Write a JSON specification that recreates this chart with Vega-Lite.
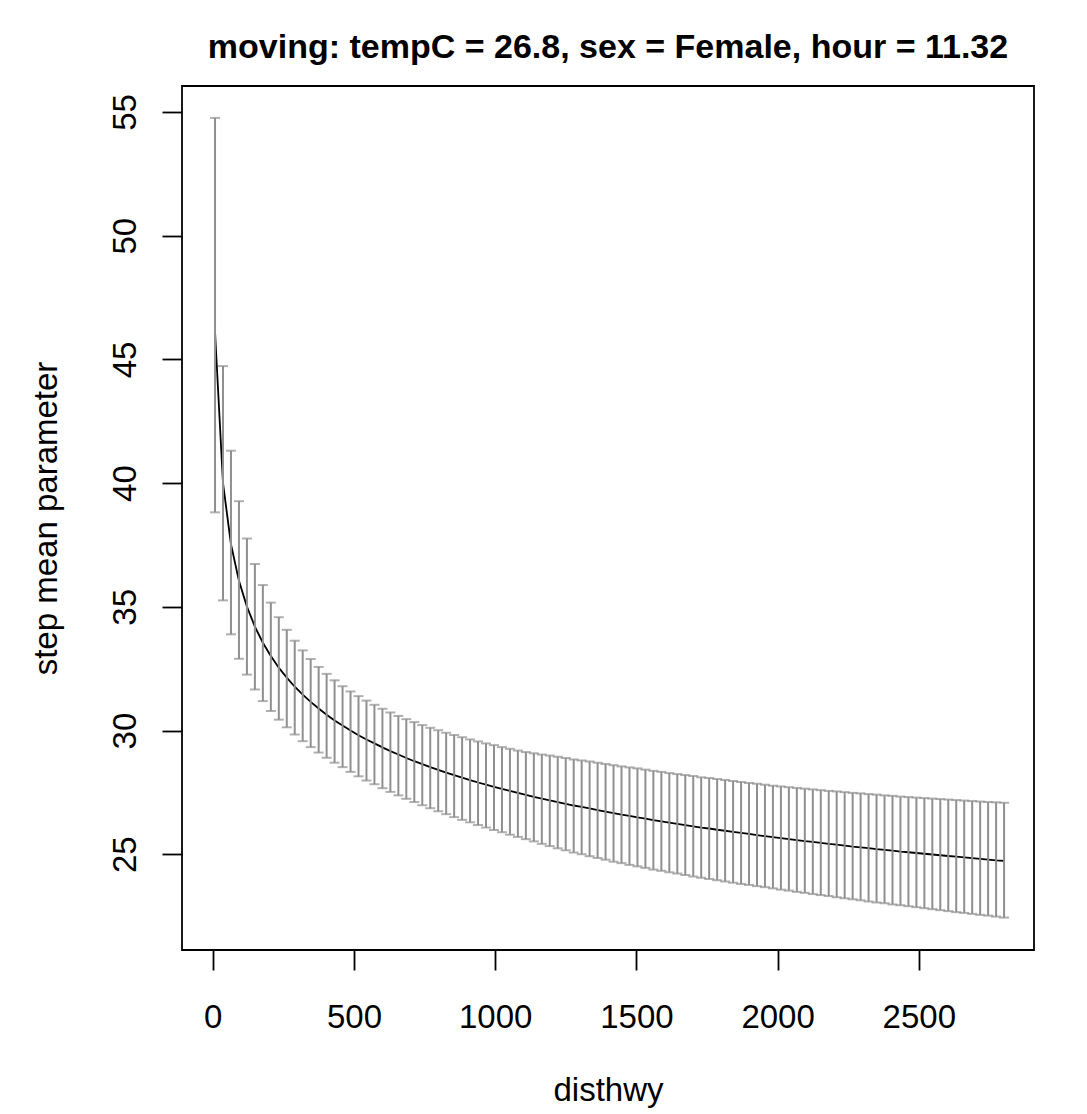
{
  "$schema": "https://vega.github.io/schema/vega-lite/v6.json",
  "width": 852,
  "height": 864,
  "autosize": {"type": "none"},
  "padding": {"left": 182, "top": 86, "right": 53, "bottom": 164},
  "background": "white",
  "title": {
    "text": "moving: tempC = 26.8, sex = Female, hour = 11.32",
    "font": "Liberation Sans",
    "fontSize": 34,
    "fontWeight": "bold",
    "color": "black",
    "anchor": "middle",
    "frame": "group",
    "baseline": "alphabetic",
    "offset": -6
  },
  "config": {
    "view": {"stroke": "black", "strokeWidth": 1.8, "fill": "white"},
    "axisX": {
      "domain": false, "grid": false,
      "tickSize": 20, "tickWidth": 1.8, "tickColor": "black",
      "labelFont": "Liberation Sans", "labelFontSize": 33, "labelColor": "black",
      "labelPadding": 57, "labelBaseline": "alphabetic", "labelFlush": false, "labelOverlap": false,
      "titleFont": "Liberation Sans", "titleFontSize": 33, "titleFontWeight": "normal", "titleColor": "black",
      "titleY": 150, "titleBaseline": "alphabetic"
    },
    "axisY": {
      "domain": false, "grid": false,
      "tickSize": 20, "tickWidth": 1.8, "tickColor": "black",
      "labelFont": "Liberation Sans", "labelFontSize": 33, "labelColor": "black",
      "labelAngle": -90, "labelAlign": "center", "labelBaseline": "alphabetic", "labelPadding": 27,
      "labelFlush": false, "labelOverlap": false,
      "titleFont": "Liberation Sans", "titleFontSize": 33, "titleFontWeight": "normal", "titleColor": "black",
      "titleX": -126, "titleBaseline": "alphabetic"
    }
  },
  "data": {"values": [
    {"d": 8, "m": 46.1, "lo": 38.82, "hi": 54.76},
    {"d": 36.2, "m": 40.0, "lo": 35.26, "hi": 44.73},
    {"d": 64.4, "m": 37.53, "lo": 33.89, "hi": 41.31},
    {"d": 92.7, "m": 36.05, "lo": 32.90, "hi": 39.27},
    {"d": 120.9, "m": 35.01, "lo": 32.26, "hi": 37.76},
    {"d": 149.1, "m": 34.20, "lo": 31.66, "hi": 36.73},
    {"d": 177.3, "m": 33.55, "lo": 31.19, "hi": 35.88},
    {"d": 205.6, "m": 33.01, "lo": 30.79, "hi": 35.17},
    {"d": 233.8, "m": 32.54, "lo": 30.44, "hi": 34.58},
    {"d": 262.0, "m": 32.14, "lo": 30.13, "hi": 34.07},
    {"d": 290.2, "m": 31.77, "lo": 29.84, "hi": 33.63},
    {"d": 318.4, "m": 31.45, "lo": 29.57, "hi": 33.24},
    {"d": 346.7, "m": 31.16, "lo": 29.33, "hi": 32.89},
    {"d": 374.9, "m": 30.89, "lo": 29.11, "hi": 32.57},
    {"d": 403.1, "m": 30.64, "lo": 28.90, "hi": 32.29},
    {"d": 431.3, "m": 30.41, "lo": 28.70, "hi": 32.03},
    {"d": 459.6, "m": 30.20, "lo": 28.52, "hi": 31.79},
    {"d": 487.8, "m": 30.00, "lo": 28.33, "hi": 31.58},
    {"d": 516.0, "m": 29.81, "lo": 28.15, "hi": 31.39},
    {"d": 544.2, "m": 29.64, "lo": 27.98, "hi": 31.21},
    {"d": 572.4, "m": 29.48, "lo": 27.83, "hi": 31.04},
    {"d": 600.7, "m": 29.32, "lo": 27.67, "hi": 30.88},
    {"d": 628.9, "m": 29.17, "lo": 27.52, "hi": 30.73},
    {"d": 657.1, "m": 29.03, "lo": 27.38, "hi": 30.59},
    {"d": 685.3, "m": 28.89, "lo": 27.24, "hi": 30.46},
    {"d": 713.6, "m": 28.76, "lo": 27.11, "hi": 30.34},
    {"d": 741.8, "m": 28.64, "lo": 26.98, "hi": 30.22},
    {"d": 770.0, "m": 28.52, "lo": 26.86, "hi": 30.11},
    {"d": 798.2, "m": 28.41, "lo": 26.74, "hi": 30.01},
    {"d": 826.4, "m": 28.30, "lo": 26.62, "hi": 29.91},
    {"d": 854.7, "m": 28.20, "lo": 26.50, "hi": 29.82},
    {"d": 882.9, "m": 28.10, "lo": 26.39, "hi": 29.73},
    {"d": 911.1, "m": 28.00, "lo": 26.29, "hi": 29.64},
    {"d": 939.3, "m": 27.90, "lo": 26.18, "hi": 29.56},
    {"d": 967.5, "m": 27.81, "lo": 26.08, "hi": 29.48},
    {"d": 995.8, "m": 27.72, "lo": 25.98, "hi": 29.41},
    {"d": 1024.0, "m": 27.64, "lo": 25.89, "hi": 29.33},
    {"d": 1052.2, "m": 27.56, "lo": 25.79, "hi": 29.26},
    {"d": 1080.4, "m": 27.48, "lo": 25.70, "hi": 29.19},
    {"d": 1108.7, "m": 27.40, "lo": 25.61, "hi": 29.13},
    {"d": 1136.9, "m": 27.32, "lo": 25.52, "hi": 29.08},
    {"d": 1165.1, "m": 27.25, "lo": 25.42, "hi": 29.03},
    {"d": 1193.3, "m": 27.18, "lo": 25.33, "hi": 28.99},
    {"d": 1221.5, "m": 27.11, "lo": 25.24, "hi": 28.94},
    {"d": 1249.8, "m": 27.04, "lo": 25.16, "hi": 28.89},
    {"d": 1278.0, "m": 26.97, "lo": 25.07, "hi": 28.83},
    {"d": 1306.2, "m": 26.91, "lo": 25.00, "hi": 28.79},
    {"d": 1334.4, "m": 26.85, "lo": 24.92, "hi": 28.75},
    {"d": 1362.7, "m": 26.78, "lo": 24.85, "hi": 28.70},
    {"d": 1390.9, "m": 26.72, "lo": 24.78, "hi": 28.65},
    {"d": 1419.1, "m": 26.66, "lo": 24.70, "hi": 28.60},
    {"d": 1447.3, "m": 26.60, "lo": 24.64, "hi": 28.55},
    {"d": 1475.5, "m": 26.55, "lo": 24.57, "hi": 28.51},
    {"d": 1503.8, "m": 26.49, "lo": 24.51, "hi": 28.47},
    {"d": 1532.0, "m": 26.44, "lo": 24.45, "hi": 28.42},
    {"d": 1560.2, "m": 26.38, "lo": 24.38, "hi": 28.37},
    {"d": 1588.4, "m": 26.33, "lo": 24.33, "hi": 28.33},
    {"d": 1616.7, "m": 26.28, "lo": 24.27, "hi": 28.28},
    {"d": 1644.9, "m": 26.23, "lo": 24.22, "hi": 28.24},
    {"d": 1673.1, "m": 26.18, "lo": 24.16, "hi": 28.20},
    {"d": 1701.3, "m": 26.13, "lo": 24.10, "hi": 28.16},
    {"d": 1729.5, "m": 26.08, "lo": 24.05, "hi": 28.11},
    {"d": 1757.8, "m": 26.04, "lo": 24.00, "hi": 28.08},
    {"d": 1786.0, "m": 25.99, "lo": 23.95, "hi": 28.04},
    {"d": 1814.2, "m": 25.95, "lo": 23.90, "hi": 28.00},
    {"d": 1842.4, "m": 25.90, "lo": 23.85, "hi": 27.96},
    {"d": 1870.7, "m": 25.86, "lo": 23.80, "hi": 27.92},
    {"d": 1898.9, "m": 25.82, "lo": 23.76, "hi": 27.88},
    {"d": 1927.1, "m": 25.77, "lo": 23.71, "hi": 27.85},
    {"d": 1955.3, "m": 25.73, "lo": 23.67, "hi": 27.81},
    {"d": 1983.5, "m": 25.69, "lo": 23.62, "hi": 27.77},
    {"d": 2011.8, "m": 25.65, "lo": 23.57, "hi": 27.74},
    {"d": 2040.0, "m": 25.61, "lo": 23.53, "hi": 27.71},
    {"d": 2068.2, "m": 25.57, "lo": 23.48, "hi": 27.68},
    {"d": 2096.4, "m": 25.53, "lo": 23.44, "hi": 27.65},
    {"d": 2124.7, "m": 25.50, "lo": 23.39, "hi": 27.62},
    {"d": 2152.9, "m": 25.46, "lo": 23.35, "hi": 27.59},
    {"d": 2181.1, "m": 25.42, "lo": 23.31, "hi": 27.56},
    {"d": 2209.3, "m": 25.39, "lo": 23.26, "hi": 27.54},
    {"d": 2237.5, "m": 25.35, "lo": 23.22, "hi": 27.51},
    {"d": 2265.8, "m": 25.31, "lo": 23.18, "hi": 27.48},
    {"d": 2294.0, "m": 25.28, "lo": 23.14, "hi": 27.46},
    {"d": 2322.2, "m": 25.25, "lo": 23.09, "hi": 27.43},
    {"d": 2350.4, "m": 25.21, "lo": 23.05, "hi": 27.41},
    {"d": 2378.7, "m": 25.18, "lo": 23.02, "hi": 27.38},
    {"d": 2406.9, "m": 25.15, "lo": 22.97, "hi": 27.36},
    {"d": 2435.1, "m": 25.11, "lo": 22.94, "hi": 27.33},
    {"d": 2463.3, "m": 25.08, "lo": 22.90, "hi": 27.31},
    {"d": 2491.5, "m": 25.05, "lo": 22.86, "hi": 27.29},
    {"d": 2519.8, "m": 25.02, "lo": 22.82, "hi": 27.27},
    {"d": 2548.0, "m": 24.99, "lo": 22.78, "hi": 27.25},
    {"d": 2576.2, "m": 24.96, "lo": 22.74, "hi": 27.23},
    {"d": 2604.4, "m": 24.93, "lo": 22.70, "hi": 27.21},
    {"d": 2632.6, "m": 24.90, "lo": 22.66, "hi": 27.19},
    {"d": 2660.9, "m": 24.87, "lo": 22.63, "hi": 27.17},
    {"d": 2689.1, "m": 24.84, "lo": 22.59, "hi": 27.15},
    {"d": 2717.3, "m": 24.81, "lo": 22.55, "hi": 27.13},
    {"d": 2745.5, "m": 24.78, "lo": 22.52, "hi": 27.11},
    {"d": 2773.8, "m": 24.75, "lo": 22.48, "hi": 27.10},
    {"d": 2802.0, "m": 24.73, "lo": 22.44, "hi": 27.08}
  ]},
  "encoding": {
    "x": {"field": "d", "type": "quantitative", "title": "disthwy",
          "axis": {"values": [0, 500, 1000, 1500, 2000, 2500], "format": "d"},
          "scale": {"domain": [-109, 2908], "nice": false, "zero": false}}
  },
  "layer": [
    {
      "mark": {"type": "line", "color": "black", "strokeWidth": 1.8},
      "encoding": {
        "y": {"field": "m", "type": "quantitative", "title": "step mean parameter",
              "axis": {"values": [25, 30, 35, 40, 45, 50, 55]},
              "scale": {"domain": [21.13, 56.05], "nice": false, "zero": false}}
      }
    },
    {
      "mark": {"type": "rule", "color": "#8f8f8f", "strokeWidth": 2},
      "encoding": {
        "y": {"field": "lo", "type": "quantitative", "title": "step mean parameter",
              "axis": {"values": [25, 30, 35, 40, 45, 50, 55]},
              "scale": {"domain": [21.13, 56.05], "nice": false, "zero": false}},
        "y2": {"field": "hi"}
      }
    },
    {
      "mark": {"type": "tick", "orient": "horizontal", "color": "#8f8f8f", "size": 10, "thickness": 2},
      "encoding": {
        "y": {"field": "lo", "type": "quantitative", "title": "step mean parameter",
              "axis": {"values": [25, 30, 35, 40, 45, 50, 55]},
              "scale": {"domain": [21.13, 56.05], "nice": false, "zero": false}}
      }
    },
    {
      "mark": {"type": "tick", "orient": "horizontal", "color": "#8f8f8f", "size": 10, "thickness": 2},
      "encoding": {
        "y": {"field": "hi", "type": "quantitative", "title": "step mean parameter",
              "axis": {"values": [25, 30, 35, 40, 45, 50, 55]},
              "scale": {"domain": [21.13, 56.05], "nice": false, "zero": false}}
      }
    }
  ]
}
